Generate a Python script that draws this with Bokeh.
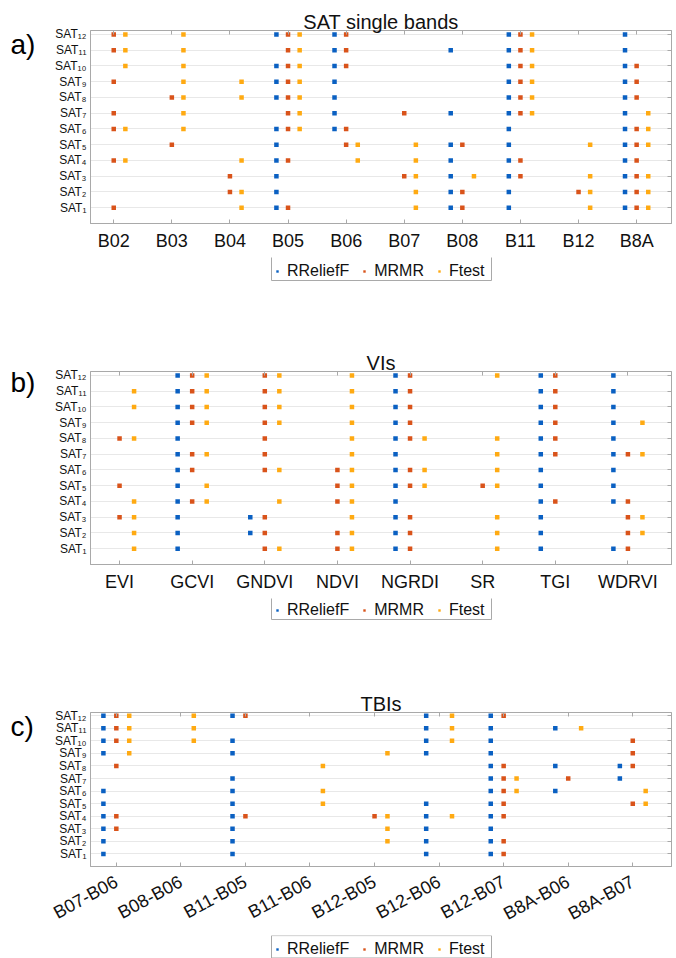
from bokeh.plotting import figure
from bokeh.models import (Range1d, FixedTicker, LinearAxis, Legend, LegendItem, Label, Grid,
                          Title, BoxAnnotation)
from bokeh.layouts import column, row
from bokeh.embed import file_html
from bokeh.resources import INLINE

# ---------------- data ----------------
SAT_ROWS = [1, 2, 3, 4, 5, 6, 7, 8, 9, 10, 11, 12]
METHODS = ["RReliefF", "MRMR", "Ftest"]

# a) SAT single bands
A_CATS = ["B02", "B03", "B04", "B05", "B06", "B07", "B08", "B11", "B12", "B8A"]
A_RRELIEFF = [[], [], [], [12, 10, 9, 8, 6, 5, 4, 3, 2, 1], [12, 11, 10, 9, 8, 7, 6], [],
              [11, 7, 5, 4, 3, 2, 1], [12, 11, 10, 9, 8, 7, 6, 5, 4, 3, 2, 1], [],
              [12, 11, 10, 9, 8, 7, 6, 5, 4, 3, 2, 1]]
A_MRMR = [[12, 11, 9, 7, 6, 4, 1], [8, 5], [3, 2], [12, 11, 10, 9, 8, 7, 6, 4, 1],
          [12, 11, 10, 6, 5], [7, 3], [5, 2, 1], [12, 11, 10, 9, 8, 7, 4, 3], [2],
          [10, 9, 8, 6, 5, 4, 3, 2, 1]]
A_FTEST = [[12, 11, 10, 6, 4], [12, 11, 10, 9, 8, 7, 6], [9, 8, 4, 2, 1],
           [12, 11, 10, 9, 8, 7, 6], [5, 4], [5, 4, 3, 2, 1], [3],
           [12, 11, 10, 9, 8, 7], [5, 3, 2, 1], [7, 6, 5, 3, 2, 1]]

# b) VIs
B_CATS = ["EVI", "GCVI", "GNDVI", "NDVI", "NGRDI", "SR", "TGI", "WDRVI"]
B_RRELIEFF = [[], [12, 11, 10, 9, 8, 7, 6, 5, 4, 3, 2, 1], [3, 2], [],
              [12, 11, 10, 9, 8, 7, 6, 5, 4, 3, 2, 1], [],
              [12, 11, 10, 9, 8, 7, 6, 5, 4, 3, 2, 1], [12, 11, 10, 9, 8, 7, 6, 5, 4, 1]]
B_MRMR = [[8, 5, 3], [12, 11, 10, 9, 7, 6, 4], [12, 11, 10, 9, 8, 7, 6, 3, 2, 1],
          [6, 5, 4, 2, 1], [12, 11, 10, 9, 8, 6, 5, 3, 2, 1], [5],
          [12, 11, 10, 9, 8, 7, 4], [7, 4, 3, 2, 1]]
B_FTEST = [[11, 10, 8, 4, 3, 2, 1], [12, 11, 10, 9, 7, 5, 4], [12, 11, 10, 9, 6, 4, 1],
           [12, 11, 10, 9, 8, 7, 6, 5, 4, 3, 2, 1], [8, 6, 5], [12, 8, 7, 6, 5, 3, 2, 1],
           [], [9, 7, 3, 2]]

# c) TBIs
C_CATS = ["B07-B06", "B08-B06", "B11-B05", "B11-B06", "B12-B05", "B12-B06",
          "B12-B07", "B8A-B06", "B8A-B07"]
C_RRELIEFF = [[12, 11, 10, 9, 6, 5, 4, 3, 2, 1], [], [12, 10, 9, 7, 6, 5, 4, 3, 2, 1],
              [], [], [12, 11, 10, 9, 5, 4, 3, 2, 1],
              [12, 11, 10, 9, 8, 7, 6, 5, 4, 3, 2, 1], [11, 8, 6], [8, 7]]
C_MRMR = [[12, 11, 10, 8, 4, 3], [], [12, 4], [], [4], [],
          [12, 8, 7, 6, 5, 4, 2, 1], [7], [10, 9, 8, 5]]
C_FTEST = [[12, 11, 10, 9], [12, 11, 10], [], [8, 6, 5], [9, 4, 3, 2],
           [12, 11, 10, 4], [7, 6], [11], [6, 5]]

# ---------------- style ----------------
FONT = "Liberation Sans"
COLORS = {"RReliefF": "#0A60C2", "MRMR": "#D9531A", "Ftest": "#FFAA12"}
OFFSET = {"RReliefF": -0.2, "MRMR": 0.0, "Ftest": 0.2}
FRAME_COLOR = "#A9A9A9"
TEXT_COLOR = "#111111"
SUB = str.maketrans("0123456789", "\u2080\u2081\u2082\u2083\u2084\u2085\u2086\u2087\u2088\u2089")
SAT_LABELS = {r: "SAT" + str(r).translate(SUB) for r in SAT_ROWS}
RIGHT_W = 636
FRAME_W = 581
TOTAL_H = 958
LEG_X = 181
LEG_W = 220
LEG_TEXT_H = 18.4


def bare(width, height, xr, yr):
    p = figure(width=width, height=height, output_backend="svg", toolbar_location=None,
               x_range=xr, y_range=yr, min_border=0, x_axis_type=None, y_axis_type=None)
    p.outline_line_color = None
    p.background_fill_color = "white"
    p.border_fill_color = "white"
    return p


def main_panel(title, cats, series, frame_h, bottom, rot=0.0, standoff=7):
    n = len(cats)
    top = 30
    p = figure(width=RIGHT_W, height=top + frame_h + bottom, output_backend="svg",
               toolbar_location=None, x_range=Range1d(0.6, n + 0.6),
               y_range=Range1d(0, 12.25), min_border_left=50, min_border_right=5,
               min_border_top=top, min_border_bottom=bottom,
               x_axis_type=None, y_axis_type=None)
    p.outline_line_color = FRAME_COLOR
    p.background_fill_color = "white"
    p.border_fill_color = "white"
    p.title = Title(text=title, align="center", text_font=FONT, text_font_size="20px",
                    text_font_style="normal", text_color=TEXT_COLOR, standoff=-4)

    xt = FixedTicker(ticks=list(range(1, n + 1)))
    yt = FixedTicker(ticks=SAT_ROWS)

    xb = LinearAxis(ticker=xt, major_label_overrides={i + 1: c for i, c in enumerate(cats)})
    xb.major_label_text_font = FONT
    xb.major_label_text_font_size = "18px"
    xb.major_label_text_color = TEXT_COLOR
    xb.major_label_standoff = standoff
    xb.major_tick_in = 4
    xb.major_tick_out = 0
    xb.minor_tick_line_color = None
    xb.axis_line_color = FRAME_COLOR
    xb.major_tick_line_color = FRAME_COLOR
    if rot:
        xb.major_label_orientation = rot
    p.add_layout(xb, "below")

    xa = LinearAxis(ticker=xt, major_label_overrides={i + 1: "" for i in range(n)})
    xa.major_label_text_font_size = "0px"
    xa.major_label_standoff = 0
    xa.major_tick_in = 4
    xa.major_tick_out = 0
    xa.minor_tick_line_color = None
    xa.axis_line_color = None
    xa.major_tick_line_color = FRAME_COLOR
    p.add_layout(xa, "above")

    yl = LinearAxis(ticker=yt, major_label_overrides=SAT_LABELS)
    yl.major_label_text_font = FONT
    yl.major_label_text_font_size = "12px"
    yl.major_label_text_color = TEXT_COLOR
    yl.major_label_standoff = 4
    yl.major_tick_in = 0
    yl.major_tick_out = 0
    yl.minor_tick_line_color = None
    yl.axis_line_color = FRAME_COLOR
    p.add_layout(yl, "left")

    yr = LinearAxis(ticker=yt, major_label_overrides={r: "" for r in SAT_ROWS})
    yr.major_label_text_font_size = "0px"
    yr.major_label_standoff = 0
    yr.major_tick_in = 4
    yr.major_tick_out = 0
    yr.minor_tick_line_color = None
    yr.axis_line_color = FRAME_COLOR
    yr.major_tick_line_color = FRAME_COLOR
    p.add_layout(yr, "right")

    p.add_layout(Grid(dimension=1, ticker=yt, grid_line_color="#E8E8E8", grid_line_width=1))

    for m in METHODS:
        xs, ys = [], []
        for i, rows in enumerate(series[m]):
            for r in rows:
                xs.append(i + 1 + OFFSET[m])
                ys.append(r)
        p.scatter(xs, ys, marker="square", size=4.5, fill_color=COLORS[m], line_color=None)
    return p


def legend_panel(height, legend_bottom, padding=3):
    # ranges in pixels of this strip; the legend-key proxies sit outside and are not drawn
    p = bare(RIGHT_W, height, Range1d(0, FRAME_W), Range1d(0, height))
    items = []
    for m in METHODS:
        r = p.scatter([-5], [-5], marker="square", size=4.5, fill_color=COLORS[m],
                      line_color=None)
        items.append(LegendItem(label=m, renderers=[r]))
    leg = Legend(items=items, orientation="horizontal", location=(LEG_X, legend_bottom),
                 padding=padding, spacing=9, glyph_width=12, glyph_height=6,
                 label_standoff=4, label_height=16, label_text_font=FONT,
                 label_text_font_size="16px", label_text_color=TEXT_COLOR,
                 border_line_color=None, margin=0,
                 background_fill_color=None, background_fill_alpha=0)
    p.add_layout(leg, "center")
    # frame around the legend
    p.add_layout(BoxAnnotation(left=LEG_X, right=LEG_X + LEG_W, bottom=legend_bottom,
                               top=legend_bottom + 2 * padding + LEG_TEXT_H,
                               fill_alpha=0, line_color=FRAME_COLOR, line_width=1,
                               line_alpha=1.0, level="overlay"))
    return p


# left strip with the panel letters (data y = pixels from top)
tags = bare(40, TOTAL_H, Range1d(0, 40), Range1d(TOTAL_H, 0))
for txt, base_y in [("a)", 44), ("b)", 382), ("c)", 726)]:
    tags.add_layout(Label(x=10, y=base_y, text=txt, text_align="left",
                          text_baseline="alphabetic", text_font=FONT,
                          text_font_size="28px", text_color="#000000"))

pa = main_panel("SAT single bands", A_CATS,
                {"RReliefF": A_RRELIEFF, "MRMR": A_MRMR, "Ftest": A_FTEST},
                frame_h=193, bottom=34)
la = legend_panel(84, 61)
pb = main_panel("VIs", B_CATS,
                {"RReliefF": B_RRELIEFF, "MRMR": B_MRMR, "Ftest": B_FTEST},
                frame_h=193, bottom=34)
lb = legend_panel(84, 63)
pc = main_panel("TBIs", C_CATS,
                {"RReliefF": C_RRELIEFF, "MRMR": C_MRMR, "Ftest": C_FTEST},
                frame_h=157, bottom=66, rot=0.5, standoff=14)
lc = legend_panel(23, 0.5, padding=2)

layout = row(tags, column(pa, la, pb, lb, pc, lc, spacing=0), spacing=0)
open("out.html", "w").write(file_html(layout, INLINE))
